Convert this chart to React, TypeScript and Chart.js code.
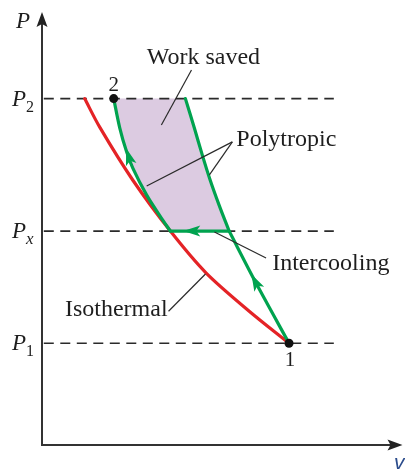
import React, { useEffect, useRef } from "react";
import { Chart, registerables } from "chart.js";

Chart.register(...registerables);

// Pressure levels (data units)
const P1 = 2.35;
const PX = 4.94;
const P2 = 8.0;
const dashStartV = 0.05;
const dashEndV = 8.14;

// Isothermal compression curve (red)
const isoV = [1.19, 1.61, 2.53, 3.58, 4.58, 5.78, 6.89];
const isoP = [8.0, 7.34, 6.12, 4.94, 3.97, 3.09, 2.35];

// Polytropic, first stage 1 -> x (green)
const poly1V = [5.22, 5.97, 6.89];
const poly1P = [4.94, 3.74, 2.35];

// Polytropic, second stage after intercooling -> 2 (green)
const poly2V = [2.0, 2.17, 2.36, 2.53, 2.92, 3.33, 3.58];
const poly2P = [8.0, 7.32, 6.77, 6.4, 5.77, 5.24, 4.94];

// Polytropic without intercooling, x -> P2 (green)
const polyNoV = [4.0, 4.25, 4.47, 4.69, 4.94, 5.22];
const polyNoP = [8.0, 7.32, 6.7, 6.12, 5.54, 4.94];

// Intercooling at Px (green)
const coolV = [3.58, 5.22];
const coolP = [PX, PX];

// State points
const stateV = [6.89, 2.0];
const stateP = [P1, P2];
const stateLabels = ["1", "2"];

// Tick labels on P axis
const tickValues = [P2, PX, P1];
const tickSubs = ["2", "x", "1"];

const RED = "#e42326";
const GREEN = "#00a34f";
const INK = "#1e1e1e";
const FILL = "#dccbe1";

const pts = (vs: number[], ps: number[]) => vs.map((v, i) => ({ x: v, y: ps[i] }));

export default function App() {
  const ref = useRef<HTMLCanvasElement | null>(null);

  useEffect(() => {
    if (!ref.current) return;

    const fillPlugin = {
      id: "workFill",
      beforeDatasetsDraw(chart: any) {
        const ctx = chart.ctx;
        const a = chart.getDatasetMeta(3).dataset; // poly2
        const b = chart.getDatasetMeta(4).dataset; // polyNo
        if (!a || !b) return;
        a.updateControlPoints(chart.chartArea, "x");
        b.updateControlPoints(chart.chartArea, "x");
        ctx.save();
        ctx.beginPath();
        a.pathSegment(ctx, a.segments[0]);
        b.pathSegment(ctx, b.segments[0], { move: false, reverse: true });
        ctx.closePath();
        ctx.fillStyle = FILL;
        ctx.fill();
        ctx.restore();
      },
    };

    const decorPlugin = {
      id: "decor",
      afterDraw(chart: any) {
        const ctx = chart.ctx;
        const sx = chart.scales.x;
        const sy = chart.scales.y;
        const X = (v: number) => sx.getPixelForValue(v);
        const Y = (p: number) => sy.getPixelForValue(p);
        const area = chart.chartArea;
        ctx.save();

        // Axes
        ctx.strokeStyle = "#333";
        ctx.fillStyle = "#222";
        ctx.lineWidth = 2;
        ctx.beginPath();
        ctx.moveTo(area.left, area.top + 10);
        ctx.lineTo(area.left, area.bottom);
        ctx.lineTo(area.right - 8, area.bottom);
        ctx.stroke();
        // y arrow
        ctx.beginPath();
        ctx.moveTo(area.left, area.top);
        ctx.lineTo(area.left - 5.5, area.top + 15);
        ctx.lineTo(area.left, area.top + 12);
        ctx.lineTo(area.left + 5.5, area.top + 15);
        ctx.closePath();
        ctx.fill();
        // x arrow
        const tipX = area.right + 2;
        ctx.beginPath();
        ctx.moveTo(tipX, area.bottom);
        ctx.lineTo(tipX - 15, area.bottom - 5.5);
        ctx.lineTo(tipX - 12, area.bottom);
        ctx.lineTo(tipX - 15, area.bottom + 5.5);
        ctx.closePath();
        ctx.fill();

        // Arrowheads on process paths
        const arrows = [
          { at: [2.43, 6.63], to: [2.17, 7.32] },
          { at: [5.97, 3.74], to: [5.22, 4.94] },
          { at: [4.22, PX], to: [3.58, PX] },
        ];
        ctx.fillStyle = GREEN;
        for (const ar of arrows) {
          const px = X(ar.at[0]);
          const py = Y(ar.at[1]);
          const qx = X(ar.to[0]);
          const qy = Y(ar.to[1]);
          const ang = Math.atan2(qy - py, qx - px);
          ctx.save();
          ctx.translate(px, py);
          ctx.rotate(ang);
          ctx.beginPath();
          ctx.moveTo(10, 0);
          ctx.lineTo(-7, -5.5);
          ctx.lineTo(-3, 0);
          ctx.lineTo(-7, 5.5);
          ctx.closePath();
          ctx.fill();
          ctx.restore();
        }

        // Leader lines
        const leaders = [
          [[4.17, 8.66], [3.33, 7.39]],
          [[5.31, 7.0], [2.92, 5.98]],
          [[5.31, 7.0], [4.67, 6.24]],
          [[4.81, 4.92], [6.25, 4.32]],
          [[3.53, 3.09], [4.56, 3.95]],
        ];
        ctx.strokeStyle = "#2a2a2a";
        ctx.lineWidth = 1.2;
        for (const [s, e] of leaders) {
          ctx.beginPath();
          ctx.moveTo(X(s[0]), Y(s[1]));
          ctx.lineTo(X(e[0]), Y(e[1]));
          ctx.stroke();
        }

        // Text labels
        const serif = '"Liberation Serif", "Times New Roman", serif';
        ctx.fillStyle = INK;
        ctx.textBaseline = "alphabetic";
        ctx.textAlign = "left";
        ctx.font = `24px ${serif}`;
        const labels = [
          { t: "Work saved", at: [2.92, 8.8] },
          { t: "Polytropic", at: [5.42, 6.91] },
          { t: "Intercooling", at: [6.42, 4.04] },
          { t: "Isothermal", at: [0.64, 2.98] },
        ];
        for (const l of labels) ctx.fillText(l.t, X(l.at[0]), Y(l.at[1]));

        // State labels
        ctx.font = `21px ${serif}`;
        ctx.textAlign = "center";
        ctx.fillText(stateLabels[1], X(stateV[1]), Y(stateP[1]) - 8);
        ctx.textBaseline = "top";
        ctx.fillText(stateLabels[0], X(stateV[0]) + 1, Y(stateP[0]) + 7);

        // P axis tick labels
        ctx.textBaseline = "alphabetic";
        tickValues.forEach((p, i) => {
          const y = Y(p);
          ctx.textAlign = "right";
          ctx.font = `italic 23px ${serif}`;
          ctx.fillText("P", 26, y + 7);
          ctx.textAlign = "left";
          ctx.font = tickSubs[i] === "x" ? `italic 17px ${serif}` : `16px ${serif}`;
          ctx.fillText(tickSubs[i], 26, y + 13);
        });

        // Axis titles
        ctx.textAlign = "left";
        ctx.font = `italic 23px ${serif}`;
        ctx.fillText("P", 16, 28);
        ctx.fillStyle = "#2b4c8c";
        ctx.font = `italic 21px "Liberation Sans", sans-serif`;
        ctx.fillText("v", 394, 469);

        ctx.restore();
      },
    };

    const dashed = (p: number) => ({
      data: [
        { x: dashStartV, y: p },
        { x: dashEndV, y: p },
      ],
      showLine: true,
      borderColor: "#2a2a2a",
      borderWidth: 1.6,
      borderDash: [10, 6.5],
      pointRadius: 0,
      tension: 0,
    });

    const curve = (vs: number[], ps: number[], color: string) => ({
      data: pts(vs, ps),
      showLine: true,
      borderColor: color,
      borderWidth: 3.2,
      pointRadius: 0,
      tension: 0.3,
      borderCapStyle: "round" as const,
    });

    const chart = new Chart(ref.current, {
      type: "scatter",
      data: {
        datasets: [
          {
            data: pts(stateV, stateP),
            pointRadius: 4.5,
            pointBackgroundColor: "#111",
            pointBorderWidth: 0,
            showLine: false,
          } as any,
          curve(poly1V, poly1P, GREEN),
          curve(coolV, coolP, GREEN),
          curve(poly2V, poly2P, GREEN),
          curve(polyNoV, polyNoP, GREEN),
          curve(isoV, isoP, RED),
          dashed(P2),
          dashed(PX),
          dashed(P1),
        ],
      },
      plugins: [fillPlugin, decorPlugin],
      options: {
        animation: false,
        responsive: false,
        devicePixelRatio: 1,
        layout: { padding: { left: 42, right: 3, top: 12, bottom: 26 } },
        scales: {
          x: { type: "linear", min: 0, max: 10, display: false },
          y: { type: "linear", min: 0, max: 10, display: false },
        },
        plugins: {
          legend: { display: false },
          tooltip: { enabled: false },
        },
      },
    });

    return () => chart.destroy();
  }, []);

  return (
    <div style={{ position: "fixed", left: 0, top: 0, width: 405, height: 471, background: "#fff" }}>
      <canvas ref={ref} width={405} height={471} style={{ width: 405, height: 471 }} />
    </div>
  );
}
